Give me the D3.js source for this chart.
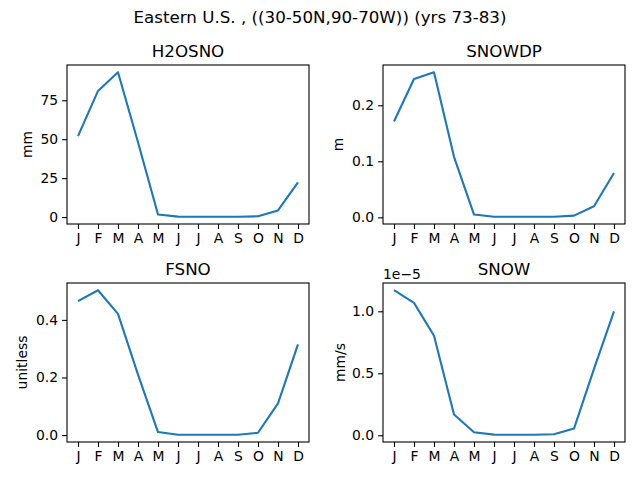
<!DOCTYPE html>
<html>
<head>
<meta charset="utf-8">
<script src="https://cdn.jsdelivr.net/npm/d3@7"></script>
<style>
  body { margin: 0; background: #fff; }
  svg { font-family: "DejaVu Sans", sans-serif; }
</style>
</head>
<body>
<svg id="chart" width="640" height="480"></svg>
<script>
var months = ['J', 'F', 'M', 'A', 'M', 'J', 'J', 'A', 'S', 'O', 'N', 'D']

var h2osno = [52, 81, 93, 48, 1.7, 0.3, 0.2, 0.2, 0.2, 0.5, 4.3, 22.3]
var snowdp = [0.171, 0.247, 0.259, 0.108, 0.005, 0.001, 0.001, 0.001, 0.001, 0.003, 0.0197, 0.079]
var fsno = [0.465, 0.503, 0.421, 0.21, 0.0105, 0.001, 0.001, 0.001, 0.001, 0.008, 0.11, 0.315]
var snow = [1.17e-5, 1.068e-5, 0.803e-5, 0.168e-5, 0.024e-5, 0.005e-5, 0.004e-5, 0.004e-5, 0.008e-5, 0.054e-5, 0.535e-5, 1.0e-5]

var h2osnoTicks = [0, 25, 50, 75]
var snowdpTicks = [0, 0.1, 0.2]
var fsnoTicks = [0, 0.2, 0.4]
var snowTicks = [0, 0.5e-5, 1.0e-5]

var panels = [
  {title: 'H2OSNO', unit: 'mm', values: h2osno, ticks: h2osnoTicks, fmt: d3.format('d'), x: 67, y: 65, labelX: 27},
  {title: 'SNOWDP', unit: 'm', values: snowdp, ticks: snowdpTicks, fmt: d3.format('.1f'), x: 383, y: 65, labelX: 338},
  {title: 'FSNO', unit: 'unitless', values: fsno, ticks: fsnoTicks, fmt: d3.format('.1f'), x: 67, y: 283, labelX: 22},
  {title: 'SNOW', unit: 'mm/s', values: snow, ticks: snowTicks, fmt: function (d) { return (d / 1e-5).toFixed(1) }, x: 383, y: 283, labelX: 340, offset: '1e\u22125'}
]

var W = 242
var H = 159
var svg = d3.select('#chart')

svg.append('text')
  .attr('x', 320)
  .attr('y', 23)
  .attr('text-anchor', 'middle')
  .attr('font-size', '16.7px')
  .text('Eastern U.S. , ((30-50N,90-70W)) (yrs 73-83)')

panels.forEach(function (p) {
  var g = svg.append('g').attr('transform', 'translate(' + p.x + ',' + p.y + ')')

  var x = d3.scaleLinear().domain([-0.55, 11.55]).range([0, W])
  var ext = d3.extent(p.values)
  var pad = (ext[1] - ext[0]) * 0.05
  var y = d3.scaleLinear().domain([ext[0] - pad, ext[1] + pad]).range([H, 0])

  var xAxis = g.append('g')
    .attr('transform', 'translate(0,' + H + ')')
    .call(d3.axisBottom(x).tickValues(d3.range(12)).tickFormat(function (d) { return months[d] })
      .tickSize(4.9).tickPadding(4))
  var yAxis = g.append('g')
    .call(d3.axisLeft(y).tickValues(p.ticks).tickFormat(p.fmt).tickSize(4.9).tickPadding(4))

  ;[xAxis, yAxis].forEach(function (a) {
    a.select('.domain').remove()
    a.selectAll('.tick line').attr('stroke', '#000').attr('stroke-width', 1.1)
    a.selectAll('.tick text').attr('fill', '#000').attr('font-size', '13.9px').attr('font-family', '"DejaVu Sans", sans-serif')
  })

  g.append('path')
    .datum(p.values)
    .attr('fill', 'none')
    .attr('stroke', '#1f77b4')
    .attr('stroke-width', 2.1)
    .attr('stroke-linejoin', 'round')
    .attr('d', d3.line().x(function (d, i) { return x(i) }).y(function (d) { return y(d) }))

  g.append('rect')
    .attr('width', W)
    .attr('height', H)
    .attr('fill', 'none')
    .attr('stroke', '#000')
    .attr('stroke-width', 1.1)

  g.append('text')
    .attr('x', W / 2)
    .attr('y', -8)
    .attr('text-anchor', 'middle')
    .attr('font-size', '16.7px')
    .text(p.title)

  svg.append('text')
    .attr('transform', 'translate(' + (p.labelX + 5) + ',' + (p.y + H / 2) + ') rotate(-90)')
    .attr('text-anchor', 'middle')
    .attr('font-size', '13.9px')
    .text(p.unit)

  if (p.offset) {
    g.append('text')
      .attr('x', 0)
      .attr('y', -4)
      .attr('font-size', '13.9px')
      .text(p.offset)
  }
})
</script>
</body>
</html>
